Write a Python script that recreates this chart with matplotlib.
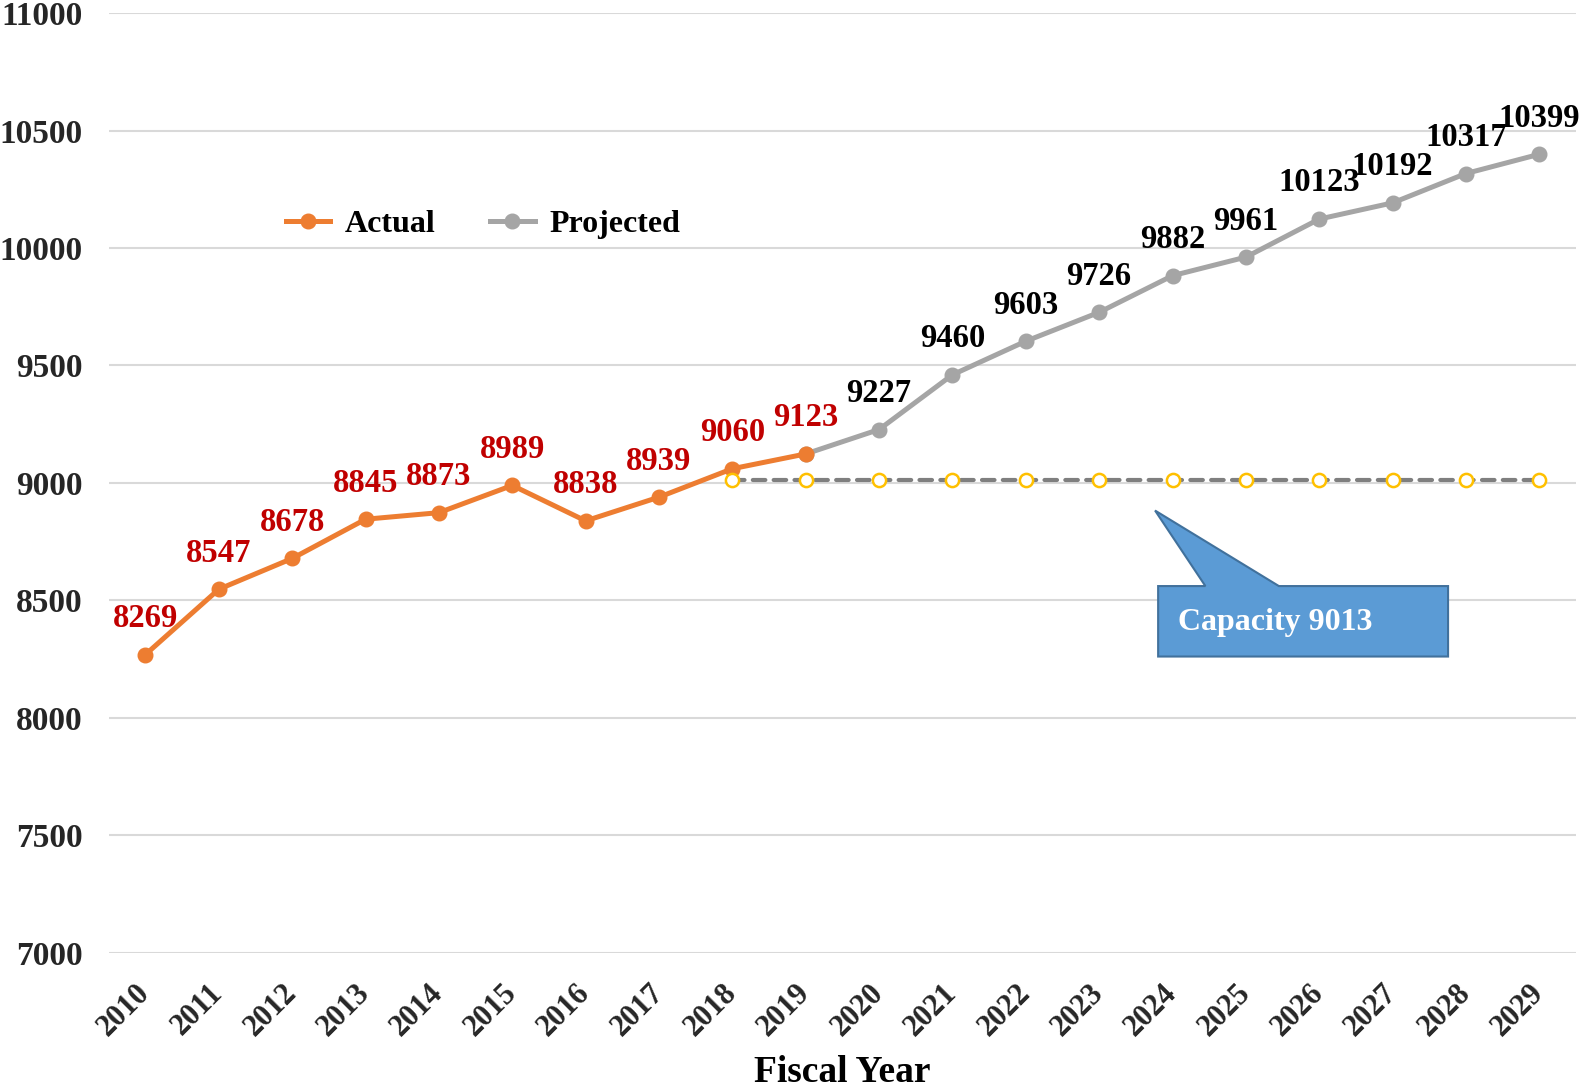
import matplotlib.pyplot as plt
from matplotlib.patches import Polygon

plt.rcParams['font.family'] = ['Liberation Serif', 'DejaVu Serif']
plt.rcParams['font.weight'] = 'bold'

years = list(range(2010, 2030))
actual_years = years[:10]
actual = [8269, 8547, 8678, 8845, 8873, 8989, 8838, 8939, 9060, 9123]
projected_years = years[9:]
projected = [9123, 9227, 9460, 9603, 9726, 9882, 9961, 10123, 10192, 10317, 10399]
capacity_years = years[8:]
capacity = 9013

orange = '#ED7D31'
gray = '#A5A5A5'
red = '#C00000'

fig = plt.figure(figsize=(15.79, 10.91), dpi=100)
ax = fig.add_axes([0.0689, 0.1269, 0.9292, 0.8611])

xa = [years.index(y) for y in actual_years]
xp = [years.index(y) for y in projected_years]
xc = [years.index(y) for y in capacity_years]

ax.plot(xp, projected, color=gray, lw=3.6, marker='o', ms=10.5, label='Projected', zorder=3)
ax.plot(xa, actual, color=orange, lw=3.6, marker='o', ms=10.5, label='Actual', zorder=4)
ax.plot(xc, [capacity] * len(xc), color='#7F7F7F', lw=3, ls=(0, (3, 2)),
        dash_capstyle='round', zorder=2)
ax.plot(xc, [capacity] * len(xc), ls='none', marker='o', ms=9.5, mfc='white',
        mec='#FFC000', mew=1.8, zorder=5)

# value labels
for x, v in zip(xa, actual):
    ax.annotate(str(v), (x, v), xytext=(0, 26), textcoords='offset points',
                ha='center', va='center', fontsize=23.5, color=red, fontweight='bold')
for x, v in zip(xp[1:], projected[1:]):
    ax.annotate(str(v), (x, v), xytext=(0, 26), textcoords='offset points',
                ha='center', va='center', fontsize=23.5, color='black', fontweight='bold')

ax.set_xlim(-0.5, len(years) - 0.5)
ax.set_ylim(7000, 11000)
ax.set_yticks(range(7000, 11001, 500))
ax.set_xticks(range(len(years)))
ax.set_xticklabels([str(y) for y in years], rotation=45, ha='right', va='center',
                   rotation_mode='anchor', fontsize=22, color='#262626')
ax.tick_params(axis='y', labelsize=24, labelcolor='#262626', length=0, pad=19)
ax.tick_params(axis='x', length=0, pad=26)
ax.grid(axis='y', color='#D9D9D9', lw=1.5)
ax.set_axisbelow(True)
for s in ax.spines.values():
    s.set_visible(False)

ax.set_xlabel('Fiscal Year', fontsize=27, fontweight='bold', labelpad=9)

# legend: actual first, projected second
h, l = ax.get_legend_handles_labels()
ax.legend(h[::-1], l[::-1], loc='center left', bbox_to_anchor=(0.101, 0.775), ncol=2,
          frameon=False, fontsize=23, handlelength=1.4, columnspacing=1.7,
          handletextpad=0.45)

# callout for capacity
t = ax.transAxes
callout = Polygon([(0.7152, 0.3901), (0.7474, 0.3901), (0.7131, 0.4705),
                   (0.7975, 0.3901), (0.9128, 0.3901), (0.9128, 0.3151),
                   (0.7152, 0.3151)], closed=True, transform=t,
                  facecolor='#5B9BD5', edgecolor='#41719C', lw=1.5, zorder=6)
ax.add_patch(callout)
ax.text(0.7289, 0.3516, 'Capacity 9013', transform=t, ha='left', va='center',
        fontsize=23, color='white', fontweight='bold', zorder=7)

fig.savefig('out.png', dpi=100)
